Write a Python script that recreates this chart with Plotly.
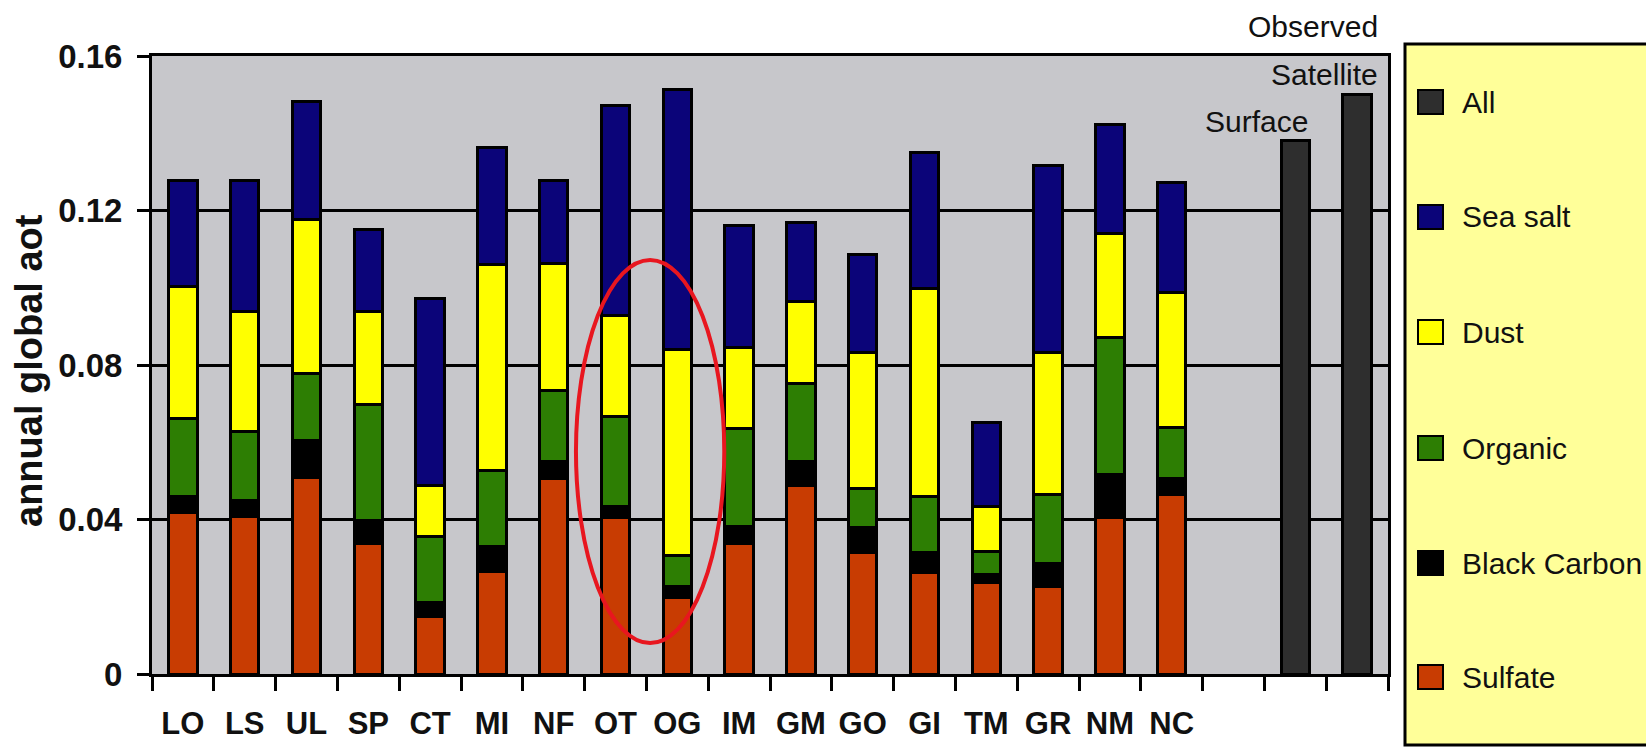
import plotly.graph_objects as go

# ---------------- data ----------------
models = ["LO", "LS", "UL", "SP", "CT", "MI", "NF", "OT", "OG",
          "IM", "GM", "GO", "GI", "TM", "GR", "NM", "NC"]
sulfate = [0.0417, 0.0407, 0.0508, 0.0339, 0.0150, 0.0265, 0.0506, 0.0405, 0.0197,
           0.0337, 0.0487, 0.0315, 0.0262, 0.0238, 0.0226, 0.0405, 0.0466]
black_carbon = [0.0042, 0.0043, 0.0096, 0.0058, 0.0035, 0.0066, 0.0045, 0.0029, 0.0029,
                0.0045, 0.0064, 0.0065, 0.0053, 0.0019, 0.0060, 0.0111, 0.0040]
organic = [0.0203, 0.0177, 0.0173, 0.0300, 0.0170, 0.0197, 0.0183, 0.0232, 0.0082,
           0.0253, 0.0201, 0.0101, 0.0144, 0.0061, 0.0179, 0.0356, 0.0132]
dust = [0.0342, 0.0311, 0.0401, 0.0241, 0.0132, 0.0533, 0.0329, 0.0262, 0.0531,
        0.0210, 0.0213, 0.0352, 0.0538, 0.0116, 0.0368, 0.0269, 0.0351]
sea_salt = [0.0273, 0.0339, 0.0305, 0.0213, 0.0485, 0.0302, 0.0214, 0.0544, 0.0675,
            0.0315, 0.0203, 0.0253, 0.0354, 0.0216, 0.0483, 0.0281, 0.0284]
observed_cats = ["Surface", "Satellite"]
observed_all = [0.1382, 0.1501]
gap_cat = ["gap"]

y_ticks = [0, 0.04, 0.08, 0.12, 0.16]
y_ticktext = ["0", "0.04", "0.08", "0.12", "0.16"]

legend_names = ["All", "Sea salt", "Dust", "Organic", "Black Carbon", "Sulfate"]
colors = {
    "Sulfate": "#C83C02",
    "Black Carbon": "#000000",
    "Organic": "#2D7E03",
    "Dust": "#FFFF00",
    "Sea salt": "#0B0479",
    "All": "#2E2E2E",
}

# ---------------- layout constants ----------------
W, H = 1646, 747
L, R, T, B = 152, 1388, 56, 674
FONT = "Liberation Sans, Arial, sans-serif"


def px_x(p):
    return (p - L) / (R - L)


def px_y(p):
    return (B - p) / (B - T)


categories = models + gap_cat + observed_cats
ticktext = models + ["", "", ""]

fig = go.Figure()
series = [("Sulfate", sulfate), ("Black Carbon", black_carbon), ("Organic", organic),
          ("Dust", dust), ("Sea salt", sea_salt)]
for name, vals in series:
    fig.add_trace(go.Bar(x=models, y=vals, name=name, width=0.46,
                         marker=dict(color=colors[name], line=dict(color="black", width=3)),
                         showlegend=False))
fig.add_trace(go.Bar(x=observed_cats, y=observed_all, name="All", width=0.46,
                     marker=dict(color=colors["All"], line=dict(color="black", width=3)),
                     showlegend=False))

shapes = []
annotations = []

# red ellipse around OT / OG
shapes.append(dict(type="circle", xref="x", yref="y",
                   x0=models.index("OT") - 0.64, x1=models.index("OG") + 0.76,
                   y0=0.008, y1=0.1072,
                   line=dict(color="#E8161F", width=4), layer="above"))

# legend box
shapes.append(dict(type="rect", xref="paper", yref="paper",
                   x0=px_x(1405), x1=px_x(1670), y0=px_y(745), y1=px_y(44),
                   fillcolor="#FFFF99", line=dict(color="black", width=3)))
leg_centers = [102, 217, 332, 448, 563, 677]
for name, cy in zip(legend_names, leg_centers):
    shapes.append(dict(type="rect", xref="paper", yref="paper",
                       x0=px_x(1418), x1=px_x(1443), y0=px_y(cy + 12), y1=px_y(cy - 12),
                       fillcolor=colors[name], line=dict(color="black", width=2)))
    annotations.append(dict(xref="paper", yref="paper", x=px_x(1460), y=px_y(cy),
                            xanchor="left", yanchor="middle", showarrow=False,
                            text=name, font=dict(family=FONT, size=30, color="#111")))

# observed labels
annotations.append(dict(xref="paper", yref="paper", x=px_x(1380), y=px_y(26),
                        xanchor="right", yanchor="middle", showarrow=False, text="Observed",
                        font=dict(family=FONT, size=30, color="#111")))
annotations.append(dict(xref="paper", yref="paper", x=px_x(1380), y=px_y(74),
                        xanchor="right", yanchor="middle", showarrow=False, text="Satellite",
                        font=dict(family=FONT, size=30, color="#111")))
annotations.append(dict(xref="paper", yref="paper", x=px_x(1310), y=px_y(121),
                        xanchor="right", yanchor="middle", showarrow=False, text="Surface",
                        font=dict(family=FONT, size=30, color="#111")))

# y-axis title
annotations.append(dict(xref="paper", yref="paper", x=px_x(29), y=px_y(371),
                        xanchor="center", yanchor="middle", showarrow=False,
                        textangle=-90, text="<b>annual global aot</b>",
                        font=dict(family=FONT, size=38, color="#111")))

fig.update_layout(
    width=W, height=H,
    margin=dict(l=L, r=W - R, t=T, b=H - B),
    paper_bgcolor="white",
    plot_bgcolor="#C7C7CB",
    barmode="stack",
    bargap=0.5,
    shapes=shapes,
    annotations=annotations,
    font=dict(family=FONT, color="#111"),
)
fig.update_xaxes(
    type="category", categoryorder="array", categoryarray=categories,
    tickmode="array", tickvals=categories, ticktext=ticktext,
    range=[-0.5, len(categories) - 0.5],
    tickson="boundaries", ticks="outside", ticklen=14, tickwidth=3, tickcolor="black",
    showline=True, linewidth=3, linecolor="black", mirror=True,
    showgrid=False, tickangle=0, automargin=False,
    tickfont=dict(family=FONT, size=31, color="#111", weight="bold"),
    ticklabelstandoff=20,
)
fig.update_yaxes(
    range=[0, 0.16], tickmode="array", tickvals=y_ticks, ticktext=y_ticktext,
    ticks="outside", ticklen=12, tickwidth=3, tickcolor="black",
    showline=True, linewidth=3, linecolor="black", mirror=True,
    showgrid=True, gridcolor="black", gridwidth=3, zeroline=False, automargin=False,
    tickfont=dict(family=FONT, size=33, color="#111", weight="bold"),
    ticklabelstandoff=8,
)

fig.write_html("out.html")
